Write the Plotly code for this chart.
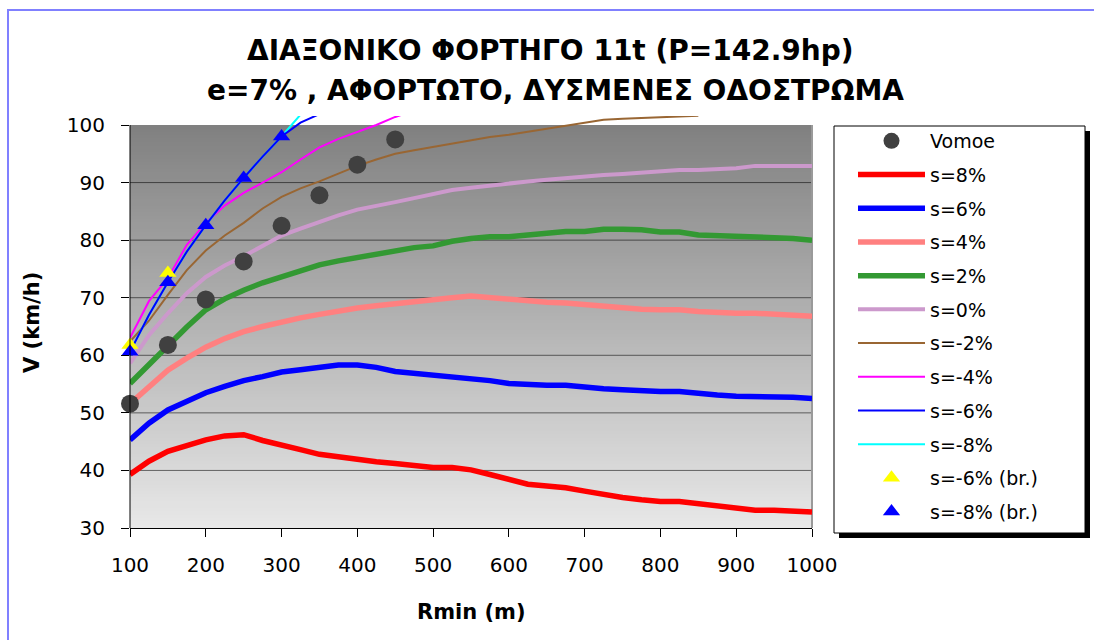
import plotly.graph_objects as go

# Minimum radius (m) grid for the speed curves
rmin = list(range(100, 1001, 25))

# Operating speed V (km/h) per longitudinal grade s
v_s8 = [39.3, 41.6, 43.3, 44.3, 45.3, 46.0, 46.2, 45.2, 44.3, 43.6,
        42.8, 42.3, 41.8, 41.5, 41.2, 40.9, 40.5, 40.5, 40.1, 39.3,
        38.4, 37.6, 37.3, 37.0, 36.4, 35.8, 35.3, 34.9, 34.6, 34.6,
        34.2, 33.8, 33.4, 33.1, 33.1, 32.9, 32.8]
v_s6 = [45.3, 48.2, 50.5, 52.1, 53.5, 54.6, 55.6, 56.3, 57.1, 57.5,
        57.9, 58.3, 58.3, 57.9, 57.2, 56.9, 56.6, 56.3, 55.9, 55.6,
        55.1, 54.9, 54.8, 54.8, 54.4, 54.2, 54.0, 53.8, 53.7, 53.7,
        53.3, 53.1, 52.9, 52.9, 52.9, 52.7, 52.5]
v_s4 = [51.6, 54.6, 57.4, 59.5, 61.4, 62.9, 64.1, 65.0, 65.8, 66.5,
        67.1, 67.7, 68.2, 68.6, 69.0, 69.3, 69.6, 70.0, 70.3, 70.0,
        69.6, 69.4, 69.2, 69.1, 68.8, 68.5, 68.2, 68.0, 67.9, 67.9,
        67.6, 67.4, 67.3, 67.3, 67.2, 67.0, 66.8]
v_s2 = [55.1, 58.4, 61.4, 64.9, 67.9, 69.8, 71.3, 72.6, 73.6, 74.7,
        75.7, 76.4, 77.0, 77.7, 78.3, 78.7, 79.0, 79.8, 80.3, 80.6,
        80.6, 80.9, 81.2, 81.5, 81.5, 81.9, 81.9, 81.8, 81.4, 81.4,
        80.9, 80.8, 80.7, 80.7, 80.5, 80.3, 80.0]
v_s0 = [58.6, 63.5, 67.3, 70.8, 73.6, 75.6, 77.2, 79.0, 80.8, 82.0,
        83.2, 84.3, 85.3, 85.9, 86.6, 87.3, 88.0, 88.7, 89.1, 89.5,
        89.9, 90.2, 90.5, 90.8, 91.1, 91.3, 91.5, 91.7, 92.0, 92.2,
        92.2, 92.4, 92.5, 92.9, 92.9, 92.9, 92.9]
v_sm2 = [62.4, 66.0, 70.5, 74.8, 78.2, 80.8, 83.0, 85.5, 87.5, 89.0,
         90.2, 91.6, 92.9, 94.0, 95.0, 95.6, 96.2, 96.8, 97.4, 97.9,
         98.3, 98.8, 99.4, 99.9, 100.4, 100.9, 101.1, 101.2, 101.3, 101.4,
         101.6]
v_sm4 = [63.0, 69.4, 73.4, 79.2, 83.0, 86.0, 88.2, 90.0, 91.8, 94.0,
         96.1, 97.6, 98.8, 100.0, 101.4, 102.5]
v_sm6 = [60.6, 67.0, 72.7, 78.0, 82.6, 86.9, 90.8, 94.5, 98.0, 100.4, 101.9]
v_sm8 = [60.6, 67.0, 72.7, 78.0, 82.6, 86.9, 90.8, 94.5, 98.0, 101.8]

# Vomoe points
r_vomoe = [100, 150, 200, 250, 300, 350, 400, 450]
v_vomoe = [51.6, 61.8, 69.7, 76.3, 82.5, 87.8, 93.1, 97.5]

# Braking-limited points
r_br6 = [100, 150]
v_br6 = [61.8, 74.3]
r_br8 = [100, 150, 200, 250, 300]
v_br8 = [60.6, 72.7, 82.6, 90.8, 98.0]

y_ticks = [30, 40, 50, 60, 70, 80, 90, 100]
x_ticks = [100, 200, 300, 400, 500, 600, 700, 800, 900, 1000]

FONT = "DejaVu Sans"

# Figure geometry (pixels)
W, H = 1094, 640
PL, PR, PT, PB = 130, 812, 116, 528
Y_LO = 30
PX_PER_UNIT = (PB - 125) / 70.0
Y_HI = Y_LO + (PB - PT) / PX_PER_UNIT


def px_x(p):
    return (p - PL) / (PR - PL)


def px_y(p):
    return (PB - p) / (PB - PT)


fig = go.Figure()

lines = [
    ("s=8%", v_s8, "#ff0000", 5.5),
    ("s=6%", v_s6, "#0000ff", 5.5),
    ("s=4%", v_s4, "#ff8080", 5.5),
    ("s=2%", v_s2, "#339933", 5.5),
    ("s=0%", v_s0, "#cc99cc", 4),
    ("s=-2%", v_sm2, "#996633", 2),
    ("s=-4%", v_sm4, "#ff00ff", 2),
    ("s=-8%", v_sm8, "#00ffff", 2),
    ("s=-6%", v_sm6, "#0000ff", 2),
]
legend_rank = {"Vomoe": 1, "s=8%": 2, "s=6%": 3, "s=4%": 4, "s=2%": 5,
               "s=0%": 6, "s=-2%": 7, "s=-4%": 8, "s=-6%": 9, "s=-8%": 10,
               "s=-6% (br.)": 11, "s=-8% (br.)": 12}

for name, vals, color, width in lines:
    fig.add_trace(go.Scatter(
        x=rmin[:len(vals)], y=vals, mode="lines", name=name,
        legendgroup=name, legendrank=legend_rank[name],
        line=dict(color=color, width=width, shape="linear"),
        hoverinfo="skip",
    ))

fig.add_trace(go.Scatter(
    x=r_vomoe, y=v_vomoe, mode="markers", name="Vomoe",
    legendgroup="Vomoe", legendrank=legend_rank["Vomoe"],
    marker=dict(symbol="circle", size=18, color="#404040"),
    cliponaxis=False,
))
fig.add_trace(go.Scatter(
    x=r_br6, y=v_br6, mode="markers", name="s=-6% (br.)",
    legendgroup="s=-6% (br.)", legendrank=legend_rank["s=-6% (br.)"],
    marker=dict(symbol="triangle-up", size=15, color="#ffff00"),
    cliponaxis=False,
))
fig.add_trace(go.Scatter(
    x=r_br8, y=v_br8, mode="markers", name="s=-8% (br.)",
    legendgroup="s=-8% (br.)", legendrank=legend_rank["s=-8% (br.)"],
    marker=dict(symbol="triangle-up", size=15, color="#0000ff"),
    cliponaxis=False,
))

shapes = []

# Plot-area gradient: light grey at the bottom, darker grey at the top
n_bands = 120
band = (100 - Y_LO) / n_bands
for i in range(n_bands):
    t = (i + 0.5) / n_bands
    g = round(232 - (232 - 128) * t)
    shapes.append(dict(
        type="rect", xref="x domain", yref="y", x0=0, x1=1,
        y0=Y_LO + i * band, y1=min(100, Y_LO + (i + 1) * band + band * 0.3),
        fillcolor=f"rgb({g},{g},{g})", line=dict(width=0), layer="below",
    ))

# Horizontal gridlines
for v in y_ticks[1:-1]:
    shapes.append(dict(
        type="line", xref="x domain", yref="y", x0=0, x1=1, y0=v, y1=v,
        line=dict(color="rgba(0,0,0,0.55)", width=1), layer="below",
    ))

# Right edge of the plot area
shapes.append(dict(
    type="line", xref="x domain", yref="y", x0=1, x1=1, y0=Y_LO, y1=100,
    line=dict(color="#9a9a9a", width=2), layer="below",
))
# Value axis line
shapes.append(dict(
    type="line", xref="x domain", yref="y", x0=0, x1=0, y0=Y_LO, y1=100,
    line=dict(color="black", width=1), layer="above",
))

# Legend frame with drop shadow
lx0, lx1, ly0, ly1 = 834, 1085, 126, 533
sh = 5
shapes.append(dict(
    type="rect", xref="paper", yref="paper",
    x0=px_x(lx0 + sh), x1=px_x(lx1 + sh), y0=px_y(ly1 + sh), y1=px_y(ly0 + sh),
    fillcolor="black", line=dict(width=0), layer="above",
))
shapes.append(dict(
    type="rect", xref="paper", yref="paper",
    x0=px_x(lx0), x1=px_x(lx1), y0=px_y(ly1), y1=px_y(ly0),
    fillcolor="white", line=dict(color="black", width=1), layer="above",
))

# Outer chart border
shapes.append(dict(
    type="rect", xref="paper", yref="paper",
    x0=px_x(8), x1=px_x(1110), y0=px_y(660), y1=px_y(10),
    fillcolor="rgba(0,0,0,0)", line=dict(color="#8080ff", width=2), layer="above",
))

annotations = [
    dict(text="<b>ΔΙΑΞΟΝΙΚΟ ΦΟΡΤΗΓΟ 11t (P=142.9hp)</b>", xref="paper", yref="paper",
         x=px_x(550), y=px_y(51), xanchor="center", yanchor="middle", showarrow=False,
         font=dict(family=FONT, size=28, color="black")),
    dict(text="<b>e=7% , ΑΦΟΡΤΩΤΟ, ΔΥΣΜΕΝΕΣ ΟΔΟΣΤΡΩΜΑ</b>", xref="paper", yref="paper",
         x=px_x(555), y=px_y(91), xanchor="center", yanchor="middle", showarrow=False,
         font=dict(family=FONT, size=28, color="black")),
    dict(text="<b>V (km/h)</b>", xref="paper", yref="paper",
         x=px_x(32), y=px_y(322), xanchor="center", yanchor="middle", showarrow=False,
         textangle=-90, font=dict(family=FONT, size=21, color="black")),
    dict(text="<b>Rmin (m)</b>", xref="paper", yref="paper",
         x=px_x(471), y=px_y(612), xanchor="center", yanchor="middle", showarrow=False,
         font=dict(family=FONT, size=21, color="black")),
]

fig.update_layout(
    width=W, height=H,
    margin=dict(l=PL, r=W - PR, t=PT, b=H - PB, pad=0),
    paper_bgcolor="white", plot_bgcolor="white",
    font=dict(family=FONT, size=19, color="black"),
    showlegend=True,
    legend=dict(
        x=px_x(853), y=px_y(122), xanchor="left", yanchor="top",
        bgcolor="rgba(0,0,0,0)", borderwidth=0, maxheight=600,
        font=dict(family=FONT, size=19, color="black"),
        tracegroupgap=6, traceorder="grouped", itemsizing="trace", itemwidth=67,
    ),
    xaxis=dict(
        range=[100, 1000], tickvals=x_ticks, ticks="outside", ticklen=8,
        tickcolor="black", tickwidth=1, showline=True, linecolor="black", linewidth=1,
        showgrid=False, zeroline=False, ticklabelstandoff=11,
        tickfont=dict(family=FONT, size=20, color="black"),
    ),
    yaxis=dict(
        range=[Y_LO, Y_HI], tickvals=y_ticks, ticks="outside", ticklen=8,
        tickcolor="black", tickwidth=1, showline=False, showgrid=False,
        zeroline=False, ticklabelstandoff=12,
        tickfont=dict(family=FONT, size=20, color="black"),
    ),
    shapes=shapes,
    annotations=annotations,
    hovermode=False,
)

fig.write_html("out.html")
